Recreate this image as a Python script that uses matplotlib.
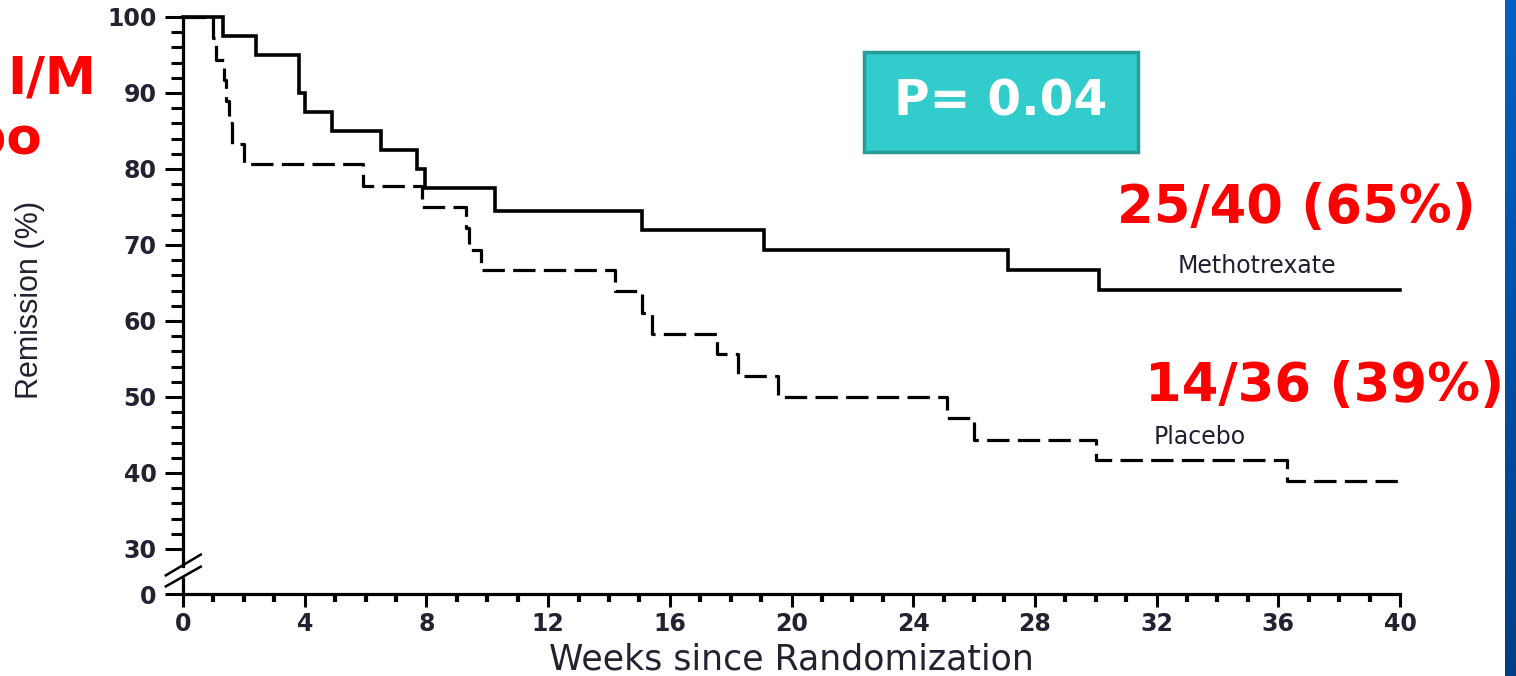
import matplotlib
matplotlib.use("Agg")
import matplotlib.pyplot as plt
import numpy as np
from matplotlib.patches import Rectangle
from matplotlib.ticker import FixedLocator

# Kaplan-Meier remission curves (weeks, % in remission)
mtx_weeks = [0, 1.3, 2.4, 3.8, 4.0, 4.9, 6.5, 7.7, 7.95, 10.25, 15.1, 19.1, 27.1, 30.1, 40]
mtx_remission = [100, 97.5, 95, 90, 87.5, 85, 82.5, 80, 77.5, 74.5, 72, 69.3, 66.7, 64.1, 64.1]

pbo_weeks = [0, 1.0, 1.1, 1.35, 1.4, 1.5, 1.6, 2.0, 5.9, 7.85, 9.3, 9.4, 9.8, 14.2,
             15.1, 15.4, 17.55, 18.25, 19.55, 25.1, 26.0, 30.0, 36.3, 40]
pbo_remission = [100, 97.2, 94.4, 91.7, 88.9, 86.1, 83.3, 80.6, 77.8, 75.0, 72.2, 69.4,
                 66.7, 63.9, 61.1, 58.3, 55.6, 52.8, 50.0, 47.2, 44.4, 41.7, 38.9, 38.9]

y_tick_values = [0, 30, 40, 50, 60, 70, 80, 90, 100]
x_tick_values = list(range(0, 41, 4))

mtx_summary = "25/40 (65%)"
pbo_summary = "14/36 (39%)"
p_value = "P= 0.04"

# broken y axis: 0 is drawn a short gap below 30
Y_ZERO = 30 - 45 / 7.6
BREAK_HI, BREAK_LO = 27.76, 26.32


def y_pos(v):
    return v if v >= 30 else Y_ZERO


W, H = 1516, 676
fig = plt.figure(figsize=(W / 100, H / 100), dpi=100)
fig.patch.set_facecolor("white")
ax = fig.add_axes([183 / W, 82 / H, 1217 / W, 577 / H])

ink = "black"
ax.step(mtx_weeks, mtx_remission, where="post", color=ink, lw=2.6,
        solid_joinstyle="miter", clip_on=False, zorder=3)
pbo_line, = ax.step(pbo_weeks, pbo_remission, where="post", color=ink, lw=2.3,
                    clip_on=False, zorder=3)
pbo_line.set_dashes((7.0, 2.6))

ax.set_xlim(0, 40)
ax.set_ylim(Y_ZERO, 100)

for side in ("top", "right"):
    ax.spines[side].set_visible(False)
ax.spines["left"].set_linewidth(2.3)
ax.spines["bottom"].set_linewidth(2.3)
ax.spines["left"].set_bounds(BREAK_HI, 100)
ax.plot([0, 0], [Y_ZERO, BREAK_LO], color=ink, lw=2.3, clip_on=False,
        solid_capstyle="butt")

# break marks
for y0, y1 in [(26.45, 29.35), (25.0, 27.76)]:
    ax.plot([-0.6, 0.62], [y0, y1], color=ink, lw=1.8, clip_on=False,
            solid_capstyle="butt")

tick_color = "#222230"
ax.yaxis.set_major_locator(FixedLocator([y_pos(v) for v in y_tick_values]))
ax.set_yticklabels([str(v) for v in y_tick_values])
ax.yaxis.set_minor_locator(FixedLocator([v for v in range(32, 100, 2) if v % 10]))
ax.tick_params(axis="y", which="major", length=13, width=2.2, pad=6,
               labelsize=17, labelcolor=tick_color)
ax.tick_params(axis="y", which="minor", length=8.5, width=2.2)

ax.xaxis.set_major_locator(FixedLocator(x_tick_values))
ax.xaxis.set_minor_locator(FixedLocator([v for v in range(1, 40) if v % 4]))
ax.tick_params(axis="x", which="major", length=9, width=2.2, pad=4,
               labelsize=17, labelcolor=tick_color)
ax.tick_params(axis="x", which="minor", length=6, width=3)
for lab in ax.get_xticklabels() + ax.get_yticklabels():
    lab.set_fontweight("bold")

ax.set_xlabel("Weeks since Randomization", fontsize=25, color=tick_color, labelpad=5)
fig.text(30 / W, 1 - 300 / H, "Remission (%)", rotation=90, ha="center", va="center",
         fontsize=22, color=tick_color, family=["Liberation Sans", "DejaVu Sans"])

# curve labels
ax.text(35.3, 65.6, "Methotrexate", ha="center", va="bottom", fontsize=17,
        color="#1c2030")
ax.text(33.4, 43.1, "Placebo", ha="center", va="bottom", fontsize=17, color="#1c2030")

# red summaries
red = "#ff0000"
fig.text(1296 / W, 1 - 208 / H, mtx_summary, ha="center", va="center",
         fontsize=38, fontweight="bold", color=red)
fig.text(1325 / W, 1 - 386 / H, pbo_summary, ha="center", va="center",
         fontsize=38, fontweight="bold", color=red)
fig.text(96 / W, 1 - 80 / H, "I/M", ha="right", va="center",
         fontsize=37, fontweight="bold", color=red)
fig.text(42 / W, 1 - 140 / H, "Placebo", ha="right", va="center",
         fontsize=37, fontweight="bold", color=red)

# p-value box
fig.patches.append(Rectangle((864 / W, 1 - 152 / H), 274 / W, 100 / H,
                             transform=fig.transFigure, facecolor="#33cccc",
                             edgecolor="#2a9c98", lw=2.5, zorder=2))
fig.text(1001 / W, 1 - 102 / H, p_value, ha="center", va="center", fontsize=35,
         fontweight="bold", color="white", zorder=3)

# blue slide edge on the right
edge = fig.add_axes([1505 / W, 0, 11 / W, 1])
grad = np.linspace(0, 1, 256).reshape(-1, 1)
edge.imshow(grad, aspect="auto", cmap=matplotlib.colors.LinearSegmentedColormap.from_list(
    "edge", ["#0062c4", "#003f86"]))
edge.set_axis_off()

fig.savefig("out.png", dpi=100)
